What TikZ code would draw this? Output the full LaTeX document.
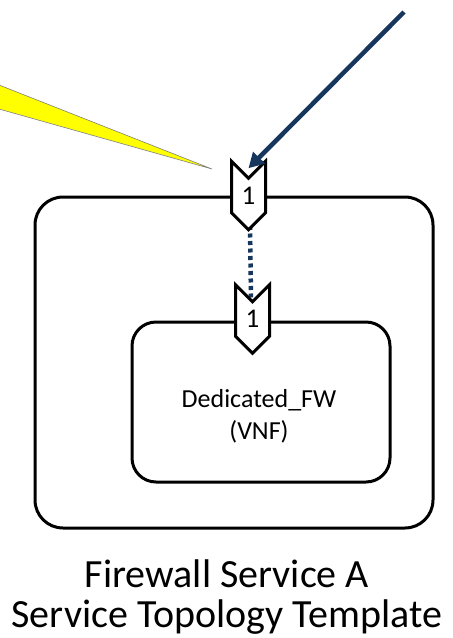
\documentclass[tikz,border=0pt]{standalone}
\usepackage{fontspec}
\setmainfont{Carlito}
\usetikzlibrary{shapes.symbols,arrows.meta}
\definecolor{navy}{RGB}{23,54,93}
\definecolor{calloutyellow}{RGB}{255,255,0}
\tikzset{
  frame/.style={draw=black, line width=3pt, rounded corners=28pt, fill=white},
  port/.style={shape=signal, signal from=north, signal to=south, signal pointer angle=90,
    draw=black, fill=white, line width=3pt, minimum width=34pt, minimum height=48pt,
    inner sep=0pt, font=\fontsize{27}{30}\selectfont},
  link/.style={draw=navy, line width=4.5pt, dash pattern=on 4pt off 3.5pt},
  pointer/.style={draw=navy, line width=4.5pt, -{Triangle[length=15pt,width=16pt]}},
}
\begin{document}
\begin{tikzpicture}[x=1pt,y=-1pt]
\useasboundingbox (0,0) rectangle (453,638);

% callout wedge coming in from the left
\fill[calloutyellow, draw=gray, line width=0.6pt] (-1,85) -- (212,169) -- (-1,109) -- cycle;

% service (outer) and VNF (inner) containers
\node[frame, minimum width=398pt, minimum height=331pt] (svc) at (234,362.5) {};
\node[frame, rounded corners=24pt, minimum width=258pt, minimum height=160pt] (vnf) at (261,402) {};
\node[font=\fontsize{26}{32}\selectfont, align=center] (vnflabel) at (259,416) {Dedicated\_FW\\(VNF)};

% mapping between the two connection points (drawn first, ports cover its ends)
\coordinate (linktop) at (250,226);
\coordinate (linkbot) at (251,298);
\draw[link] (linktop) -- (linkbot);

% connection points
\node[port] (svcport) at (248.5,195.5) {1};
\node[port] (vnfport) at (252.5,319) {1};

% incoming arrow
\coordinate (src) at (404,12);
\draw[pointer] (src) -- ([yshift=8pt]svcport.north);

% caption
\node[font=\fontsize{40}{40}\selectfont, align=center] (caption) at (227,597) {Firewall Service A\\Service Topology Template};
\end{tikzpicture}
\end{document}
